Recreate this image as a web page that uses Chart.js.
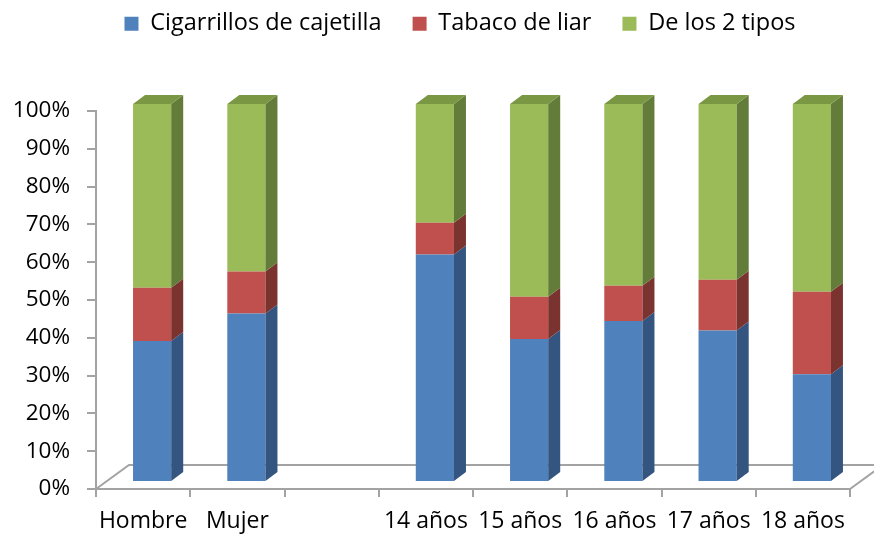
<!DOCTYPE html>
<html>
<head>
<meta charset="utf-8">
<script src="https://cdn.jsdelivr.net/npm/chart.js@4.4.1/dist/chart.umd.min.js"></script>
<style>
  html, body { margin: 0; background: #fff; }
  #wrap { width: 874px; height: 536px; }
</style>
</head>
<body>
<div id="wrap"><canvas id="chart"></canvas></div>
<script>
// --- DATA (percent of smokers by type of tobacco) ---
const groups = ['Hombre', 'Mujer', '', '14 años', '15 años', '16 años', '17 años', '18 años'];
const cajetilla = [37.3, 44.6, null, 60.2, 37.8, 42.6, 40.1, 28.5];
const liar = [14.1, 11.1, null, 8.4, 11.2, 9.3, 13.4, 21.8];
const ambos = [48.6, 44.3, null, 31.4, 51.0, 48.1, 46.5, 49.7];
const seriesNames = ['Cigarrillos de cajetilla', 'Tabaco de liar', 'De los 2 tipos'];

// --- LOOK ---
const FONT = 'Open Sans';
const frontColors = ['#4f81bd', '#c0504d', '#9bbb59'];
const sideColors = ['#34557f', '#7b3330', '#647c39'];
const topColor = '#7a9844';
const axisColor = '#a3a3a3';

// 3D offsets: bar depth, floor depth, and where bars sit on the floor
const DX = 12, DY = 9;
const FLOOR_X = 33, FLOOR_Y = 24;
const SHIFT_X = 9, SHIFT_Y = -7;

// plot box: left edge 96, top 111, bottom 489, right 850
const PAD_LEFT = 8, PAD_RIGHT = 24, PAD_TOP = -23;
const PLOT_LEFT = 96, PLOT_TOP = 111, X_AXIS_H = 47;
const LEGEND_DX = 31, LEGEND_DY = 4;

const prism = {
    id: 'prism',
    afterInit(chart) {
        const legend = chart.legend;
        const fit = legend.fit;
        legend.fit = function () {
            fit.call(this);
            this.height = PLOT_TOP - PAD_TOP;
        };
        const draw = legend.draw;
        legend.draw = function () {
            this.ctx.save();
            this.ctx.translate(LEGEND_DX, LEGEND_DY);
            draw.apply(this, arguments);
            this.ctx.restore();
        };
    },
    beforeDatasetsDraw(chart) {
        const { ctx, chartArea: a } = chart;
        // floor outline
        ctx.save();
        ctx.strokeStyle = axisColor;
        ctx.lineWidth = 2;
        ctx.beginPath();
        ctx.moveTo(a.left, a.bottom);
        ctx.lineTo(a.left + FLOOR_X, a.bottom - FLOOR_Y);
        ctx.lineTo(a.right + FLOOR_X, a.bottom - FLOOR_Y);
        ctx.lineTo(a.right, a.bottom);
        ctx.stroke();
        ctx.restore();

        // bars stand in the middle of the floor
        ctx.save();
        ctx.translate(SHIFT_X, SHIFT_Y);
    },
    afterDatasetsDraw(chart) {
        const ctx = chart.ctx;
        const last = chart.data.datasets.length - 1;
        chart.data.datasets.forEach((ds, i) => {
            const meta = chart.getDatasetMeta(i);
            meta.data.forEach((bar, j) => {
                if (ds.data[j] == null) return;
                const { x, y, base, width } = bar.getProps(['x', 'y', 'base', 'width'], true);
                const l = x - width / 2;
                const r = x + width / 2;

                // right side face
                ctx.fillStyle = sideColors[i];
                ctx.beginPath();
                ctx.moveTo(r, base);
                ctx.lineTo(r + DX, base - DY);
                ctx.lineTo(r + DX, y - DY);
                ctx.lineTo(r, y);
                ctx.closePath();
                ctx.fill();

                // top face on the last segment only
                if (i === last) {
                    ctx.fillStyle = topColor;
                    ctx.beginPath();
                    ctx.moveTo(l, y);
                    ctx.lineTo(l + DX, y - DY);
                    ctx.lineTo(r + DX, y - DY);
                    ctx.lineTo(r, y);
                    ctx.closePath();
                    ctx.fill();
                }
            });
        });
        ctx.restore();
    }
};

const seriesData = [cajetilla, liar, ambos];

new Chart(document.getElementById('chart'), {
    type: 'bar',
    data: {
        labels: groups,
        datasets: seriesData.map((values, i) => ({
            label: seriesNames[i],
            data: values,
            backgroundColor: frontColors[i],
            borderWidth: 0,
            barPercentage: 0.405,
            categoryPercentage: 1,
            clip: false
        }))
    },
    options: {
        responsive: true,
        maintainAspectRatio: false,
        animation: false,
        layout: { padding: { left: PAD_LEFT, right: PAD_RIGHT, top: PAD_TOP, bottom: 0 } },
        plugins: {
            legend: {
                position: 'top',
                labels: {
                    boxWidth: 14,
                    boxHeight: 14,
                    padding: 31,
                    color: '#000',
                    font: { family: FONT, size: 23.5 }
                }
            },
            tooltip: { enabled: false }
        },
        scales: {
            x: {
                stacked: true,
                afterFit(scale) { scale.height = X_AXIS_H; },
                grid: { drawOnChartArea: false, color: axisColor, lineWidth: 2, tickLength: 8 },
                border: { color: axisColor, width: 2 },
                ticks: { color: '#000', padding: 11, maxRotation: 0, autoSkip: false, font: { family: FONT, size: 23 } }
            },
            y: {
                stacked: true,
                min: 0,
                max: 100,
                afterFit(scale) { scale.width = PLOT_LEFT - PAD_LEFT; },
                grid: { drawOnChartArea: false, color: axisColor, lineWidth: 2, tickLength: 9 },
                border: { color: axisColor, width: 2 },
                ticks: {
                    stepSize: 10,
                    color: '#000',
                    padding: 17,
                    font: { family: FONT, size: 22.5 },
                    callback: v => v + '%'
                }
            }
        }
    },
    plugins: [prism]
});
</script>
</body>
</html>
